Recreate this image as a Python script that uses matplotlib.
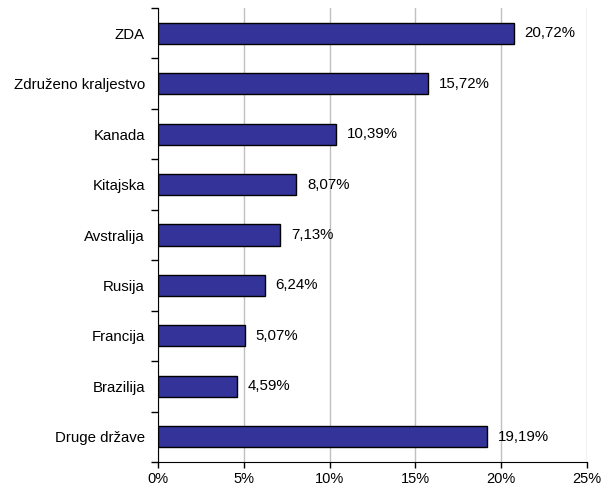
import matplotlib
matplotlib.use("Agg")
import matplotlib.pyplot as plt
import numpy as np
from matplotlib.ticker import FixedLocator, PercentFormatter

plt.rcParams['font.family'] = ['Liberation Sans', 'DejaVu Sans']
plt.rcParams['font.size'] = 10.8

countries = ["ZDA", "Združeno kraljestvo", "Kanada", "Kitajska", "Avstralija",
             "Rusija", "Francija", "Brazilija", "Druge države"]
shares = [20.72, 15.72, 10.39, 8.07, 7.13, 6.24, 5.07, 4.59, 19.19]
labels = ["20,72%", "15,72%", "10,39%", "8,07%", "7,13%",
          "6,24%", "5,07%", "4,59%", "19,19%"]

fig = plt.figure(figsize=(6.03, 4.86), dpi=100)
ax = fig.add_axes([158 / 603, 24 / 486, 429 / 603, 454 / 486])

y = np.arange(len(countries))
ax.barh(y, shares, height=0.42, color="#333399", edgecolor="black", linewidth=1, zorder=3)

for yi, v, lab in zip(y, shares, labels):
    ax.text(v + 0.62, yi, lab, va="center", ha="left")

ax.set_xlim(0, 25)
ax.set_ylim(len(countries) - 0.5, -0.5)
ax.set_xticks([0, 5, 10, 15, 20, 25])
ax.xaxis.set_major_formatter(PercentFormatter(decimals=0))
ax.tick_params(axis="x", labelsize=10.5)
ax.set_yticks(y)
ax.set_yticklabels(countries)
ax.tick_params(axis="y", which="major", length=0, pad=9.5)
ax.yaxis.set_minor_locator(FixedLocator(np.arange(-0.5, len(countries), 1)))
ax.tick_params(axis="y", which="minor", length=5, direction="out", width=1)
ax.tick_params(axis="x", length=4, direction="out", width=1, pad=3.5)

ax.grid(axis="x", color="#c0c0c0", linewidth=1, zorder=0)
ax.spines["top"].set_visible(False)
ax.spines["right"].set_visible(False)

fig.savefig("out.png", dpi=100)
